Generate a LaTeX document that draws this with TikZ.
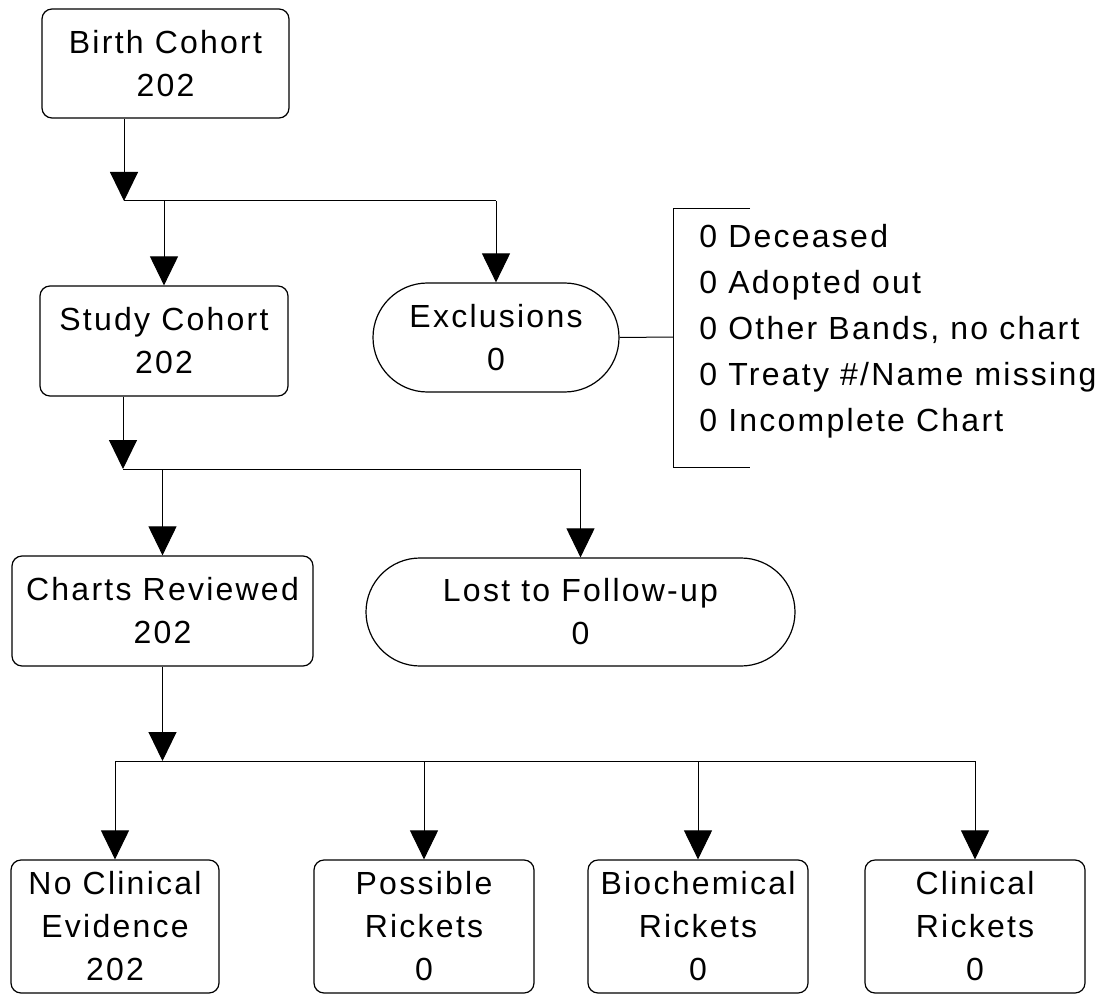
\documentclass[tikz,border=0pt]{standalone}
\usepackage{fontspec}
\setmainfont{Liberation Sans}[LetterSpace=7]
\usetikzlibrary{arrows.meta,shapes.misc}

\begin{document}
\begin{tikzpicture}[x=0.5pt,y=-0.5pt,
  box/.style={draw,rounded corners=5pt,line width=0.6pt,align=center,inner sep=0pt,
    font=\fontsize{16}{21.5}\selectfont},
  pill/.style={draw,rounded rectangle,line width=0.6pt,align=center,inner sep=0pt,
    font=\fontsize{16}{21.5}\selectfont},
  arr/.style={-{Triangle[width=14pt,length=14.5pt]},line width=0.5pt},
  link/.style={line width=0.5pt}]

\useasboundingbox (0,0) rectangle (1112,994);

% Boxes
\node[box,minimum width=123.5pt,minimum height=54.5pt] (birth) at (165.5,63.5) {Birth Cohort\\202};
\node[box,minimum width=124pt,minimum height=55pt] (study) at (164,341) {Study Cohort\\202};
\node[pill,minimum width=123pt,minimum height=54.5pt] (excl) at (496,337.5) {Exclusions\\0};
\node[box,minimum width=150.5pt,minimum height=55pt] (charts) at (162.5,611) {Charts Reviewed\\202};
\node[pill,minimum width=214.5pt,minimum height=54pt] (lost) at (580.5,612) {Lost to Follow-up\\0};

% Outcomes
\node[box,minimum width=104pt,minimum height=66.5pt] (noclin) at (115,926.5) {No Clinical\\Evidence\\202};
\node[box,minimum width=110pt,minimum height=66.5pt] (possible) at (424,926.5) {Possible\\Rickets\\0};
\node[box,minimum width=110pt,minimum height=66.5pt] (biochem) at (698,926.5) {Biochemical\\Rickets\\0};
\node[box,minimum width=110pt,minimum height=66.5pt] (clinical) at (975,926.5) {Clinical\\Rickets\\0};

% Reasons for exclusion
\node[align=left,anchor=west,inner sep=0pt,font=\fontsize{16}{23}\selectfont] (reasons) at (699,331)
  {0 Deceased\\0 Adopted out\\0 Other Bands, no chart\\0 Treaty \#/Name missing\\0 Incomplete Chart};

% Junctions
\coordinate (j1) at (124,201);
\coordinate (j2) at (123,469);
\coordinate (j3) at (162.5,761);
\coordinate (brx) at (673,337);
\coordinate (brtop) at (750,209);
\coordinate (brbot) at (750,467);

% Birth cohort split
\draw[arr] (birth.south -| j1) -- (j1);
\draw[link] (j1) -- (j1 -| excl);
\draw[arr] (j1 -| study) -- (study.north);
\draw[arr] (j1 -| excl) -- (excl.north);

% Bracket
\draw[link] (excl.east) -- (brx);
\draw[link] (brtop) -| (brx) |- (brbot);

% Study cohort split
\draw[arr] (study.south -| j2) -- (j2);
\draw[link] (j2) -- (j2 -| lost);
\draw[arr] (j2 -| charts) -- (charts.north);
\draw[arr] (j2 -| lost) -- (lost.north);

% Outcomes split
\draw[arr] (charts.south) -- (j3);
\draw[link] (j3 -| noclin) -- (j3 -| clinical);
\foreach \n in {noclin,possible,biochem,clinical}
  \draw[arr] (j3 -| \n) -- (\n.north);

\end{tikzpicture}
\end{document}
